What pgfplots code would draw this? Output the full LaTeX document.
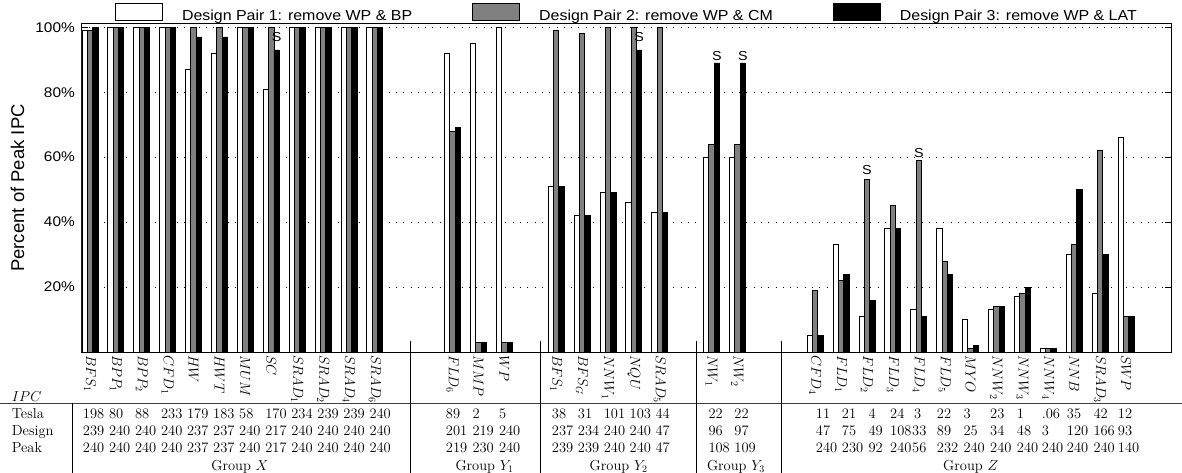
\documentclass[border=0pt]{standalone}
\usepackage{fontspec}
\usepackage{pgfplots}
\pgfplotsset{compat=1.18}
\newfontfamily\lsans{Liberation Sans}[FakeStretch=1.1]
\newfontfamily\lsansn{Liberation Sans}
\newcommand\tfont{\fontsize{14.5}{16}\selectfont}
\newcommand\cells[2]{\foreach \xx/\vv in {#2}{\node[anchor=base west,inner sep=0pt,font=\tfont] at (\xx pt,-#1 pt) {\vv};}}
\begin{document}
\begin{tikzpicture}
\useasboundingbox (0pt,0pt) rectangle (1182pt,-473pt);
\begin{axis}[
  at={(82pt,-352pt)}, anchor=south west,
  scale only axis, width=1089pt, height=328pt,
  ybar, bar width=0.206,
  xmin=-0.309, xmax=41.74, ymin=0, ymax=101,
  axis line style={line width=1pt},
  xtick={0,1,2,3,4,5,6,7,8,9,10,11,14,15,16,18,19,20,21,22,24,25,28,29,30,31,32,33,34,35,36,37,38,39,40},
  xticklabels={$BFS_1$,$BPP_1$,$BPP_2$,$CFD_1$,$HW$,$HWT$,$MUM$,$SC$,$SRAD_1$,$SRAD_2$,$SRAD_4$,$SRAD_6$,$FLD_6$,$MMP$,$WP$,$BFS_1$,$BFS_G$,$NNW_1$,$NQU$,$SRAD_5$,$NW_1$,$NW_2$,$CFD_4$,$FLD_1$,$FLD_2$,$FLD_3$,$FLD_4$,$FLD_5$,$MYO$,$NNW_2$,$NNW_3$,$NNW_4$,$NNB$,$SRAD_3$,$SWP$},
  xtick style={draw=none},
  xticklabel style={rotate=-90, anchor=west, inner sep=0pt, font=\fontsize{14}{14}\selectfont},
  xticklabel shift=3pt,
  ytick={20,40,60,80,100},
  yticklabels={20\%,40\%,60\%,80\%,100\%},
  yticklabel style={font=\lsans\fontsize{14}{14}\selectfont, inner sep=0pt},
  yticklabel shift=7pt,
  ytick style={line width=0.8pt, black},
  tick align=inside, major tick length=6pt,
  ymajorgrids, major grid style={line width=0.9pt, dash pattern=on 0.9pt off 6.4pt, black},
  ylabel={Percent of Peak IPC},
  ylabel style={at={(axis description cs:-0.0592,0.5)}, anchor=center, font=\lsansn\fontsize{18.5}{20}\selectfont},
  legend columns=-1,
  legend image code/.code={\draw[#1, line width=1pt] (0pt,-4.3pt) rectangle (47pt,12.7pt);},
  legend style={at={(axis description cs:0.0303,1.0052)}, anchor=south west, draw=none, fill=none,
    inner sep=0pt, outer sep=0pt, font=\lsans\fontsize{14.5}{16}\selectfont, nodes={inner sep=0pt},
    /tikz/every odd column/.append style={column sep=19pt},
    /tikz/every even column/.append style={column sep=60pt}},
]
\addplot[fill=white, draw=black, line width=0.9pt, bar shift=-0.206] coordinates {
(0,99)(1,100)(2,100)(3,100)(4,87)(5,92)(6,100)(7,81)(8,100)(9,100)(10,100)(11,100)
(14,92)(15,95)(16,100)
(18,51)(19,42)(20,49)(21,46)(22,43)
(24,60)(25,60)
(28,5)(29,33)(30,11)(31,38)(32,13)(33,38)(34,10)(35,13)(36,17)(37,1)(38,30)(39,18)(40,66)};
\addlegendentry{Design Pair 1: remove WP \& BP}
\addplot[fill=gray, draw=black, line width=0.9pt, bar shift=0] coordinates {
(0,99)(1,100)(2,100)(3,100)(4,100)(5,100)(6,100)(7,100)(8,100)(9,100)(10,100)(11,100)
(14,68)(15,3)(16,3)
(18,99)(19,98)(20,100)(21,100)(22,100)
(24,64)(25,64)
(28,19)(29,22)(30,53)(31,45)(32,59)(33,28)(34,1)(35,14)(36,18)(37,1)(38,33)(39,62)(40,11)};
\addlegendentry{Design Pair 2: remove WP \& CM}
\addplot[fill=black, draw=black, line width=0.9pt, bar shift=0.206] coordinates {
(0,100)(1,100)(2,100)(3,100)(4,97)(5,97)(6,100)(7,93)(8,100)(9,100)(10,100)(11,100)
(14,69)(15,3)(16,3)
(18,51)(19,42)(20,49)(21,93)(22,43)
(24,89)(25,89)
(28,5)(29,24)(30,16)(31,38)(32,11)(33,24)(34,2)(35,14)(36,20)(37,1)(38,50)(39,30)(40,11)};
\addlegendentry{Design Pair 3: remove WP \& LAT}
\begin{scope}[every node/.style={font=\lsans\fontsize{13}{13}\selectfont, inner sep=0pt}]
\node at (axis cs:7.206,97) {S};
\node at (axis cs:21.206,97) {S};
\node at (axis cs:24.206,91) {S};
\node at (axis cs:25.206,91) {S};
\node at (axis cs:30,56) {S};
\node at (axis cs:32,61.4) {S};
\end{scope}
\end{axis}
% table
\draw[line width=1.5pt, black!75] (0pt,-403.5pt) -- (1182pt,-403.5pt);
\draw[line width=0.8pt] (72pt,-403pt) -- (72pt,-473pt);
\foreach \vx in {410.7,540.7,696.7,781.7}{\draw[line width=0.8pt] (\vx pt,-341pt) -- (\vx pt,-473pt);}
\node[anchor=base west,inner sep=0pt,font=\tfont] at (11.7pt,-401pt) {$IPC$};
\node[anchor=base west,inner sep=0pt,font=\tfont] at (11.7pt,-418pt) {Tesla};
\node[anchor=base west,inner sep=0pt,font=\tfont] at (11.7pt,-435.5pt) {Design};
\node[anchor=base west,inner sep=0pt,font=\tfont] at (11.7pt,-452.5pt) {Peak};
% Group X
\cells{418}{82.7/198,108.8/80,134.8/88,160.9/233,186.9/179,213.0/183,239.0/58,265.1/170,291.1/234,317.2/239,343.2/239,369.3/240}
\cells{435.5}{82.7/239,108.8/240,134.8/240,160.9/240,186.9/237,213.0/237,239.0/240,265.1/217,291.1/240,317.2/240,343.2/240,369.3/240}
\cells{452.5}{82.7/240,108.8/240,134.8/240,160.9/240,186.9/237,213.0/237,239.0/240,265.1/217,291.1/240,317.2/240,343.2/240,369.3/240}
% Group Y1
\cells{418}{445.7/89,472.3/2,498.8/5}
\cells{435.5}{445.7/201,472.3/219,498.8/240}
\cells{452.5}{445.7/219,472.3/230,498.8/240}
% Group Y2
\cells{418}{551.7/38,577.7/31,603.6/101,629.5/103,655.3/44}
\cells{435.5}{551.7/237,577.7/234,603.6/240,629.5/240,655.3/47}
\cells{452.5}{551.7/239,577.7/239,603.6/240,629.5/240,655.3/47}
% Group Y3
\cells{418}{708.3/22,734.2/22}
\cells{435.5}{708.3/96,734.2/97}
\cells{452.5}{708.3/108,734.2/109}
% Group Z
\cells{418}{815.7/11,841.7/21,868.3/4,890.0/24,914.0/3,936.7/22,963.3/3,990.0/23,1016.7/1,1041.7/.06,1066.7/35,1093.3/42,1117.7/12}
\cells{435.5}{815.7/47,841.7/75,868.3/49,890.0/108,912.0/33,936.7/89,963.3/25,990.0/34,1016.7/48,1041.7/3,1066.7/120,1093.3/166,1117.7/93}
\cells{452.5}{815.7/240,841.7/230,868.3/92,890.0/240,912.0/56,936.7/232,963.3/240,990.0/240,1016.7/240,1041.7/240,1066.7/240,1093.3/240,1117.7/140}
\node[anchor=base,inner sep=0pt,font=\tfont] at (240pt,-470pt) {Group $X$};
\node[anchor=base,inner sep=0pt,font=\tfont] at (484.5pt,-470pt) {Group $Y_1$};
\node[anchor=base,inner sep=0pt,font=\tfont] at (618.7pt,-470pt) {Group $Y_2$};
\node[anchor=base,inner sep=0pt,font=\tfont] at (736pt,-470pt) {Group $Y_3$};
\node[anchor=base,inner sep=0pt,font=\tfont] at (970.7pt,-470pt) {Group $Z$};
\end{tikzpicture}
\end{document}
